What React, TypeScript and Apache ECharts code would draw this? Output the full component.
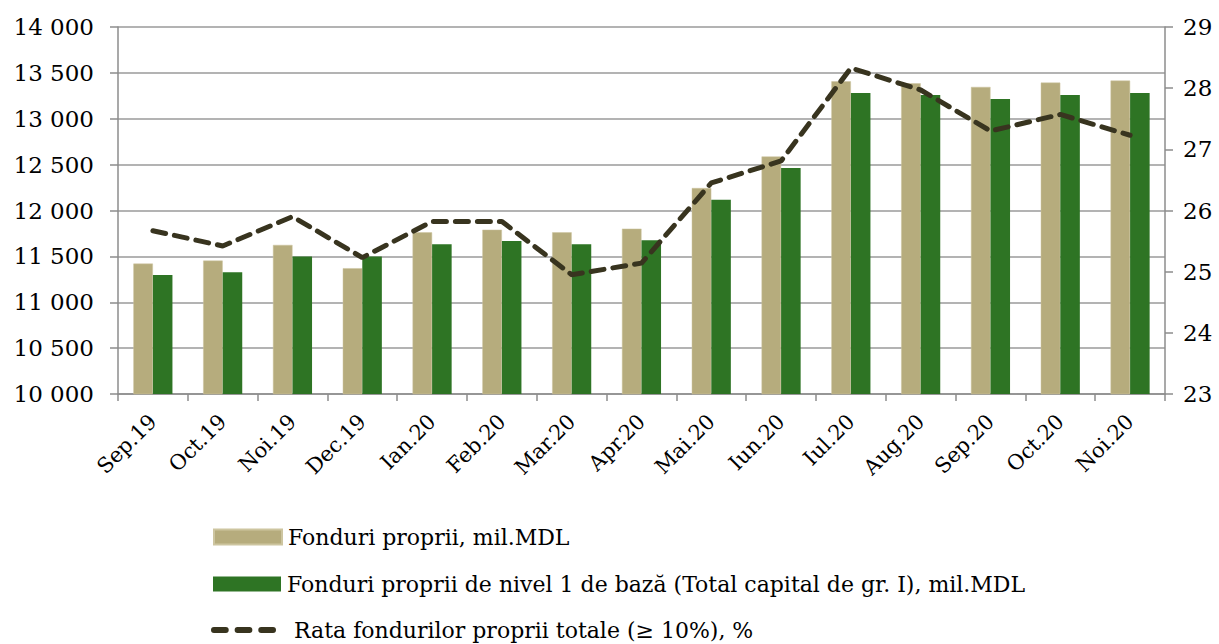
import React, { useEffect, useRef } from "react";
import * as echarts from "echarts";

const categories = ["Sep.19", "Oct.19", "Noi.19", "Dec.19", "Ian.20", "Feb.20", "Mar.20", "Apr.20", "Mai.20", "Iun.20", "Iul.20", "Aug.20", "Sep.20", "Oct.20", "Noi.20"];
const fonduriProprii = [11421, 11454, 11625, 11371, 11762, 11791, 11762, 11802, 12245, 12589, 13408, 13387, 13347, 13394, 13416];
const fonduriNivel1 = [11298, 11327, 11498, 11498, 11632, 11668, 11632, 11675, 12118, 12462, 13282, 13260, 13216, 13260, 13282];
const rata = [25.67, 25.42, 25.9, 25.23, 25.82, 25.82, 24.95, 25.14, 26.45, 26.81, 28.33, 27.97, 27.3, 27.57, 27.23];

const nameA = "Fonduri proprii, mil.MDL";
const nameB = "Fonduri proprii de nivel 1 de bază (Total capital de gr. I), mil.MDL";
const nameC = "Rata fondurilor proprii totale (≥ 10%), %";

const FONT = "DejaVu Serif";
const DASH_ICON =
  "path://M3,0h12a3,3 0 0 1 0,6h-12a3,3 0 0 1 0,-6z M27,0h12a3,3 0 0 1 0,6h-12a3,3 0 0 1 0,-6z M51,0h12a3,3 0 0 1 0,6h-12a3,3 0 0 1 0,-6z";

export default function App() {
  const ref = useRef<HTMLDivElement>(null);
  useEffect(() => {
    const chart = echarts.init(ref.current!, null, { renderer: "svg" });
    const legendText = { fontFamily: FONT, fontSize: 22, lineHeight: 22, color: "#000" };
    chart.setOption({
      animation: false,
      backgroundColor: "#fff",
      grid: { left: 118, right: 54, top: 27, bottom: 250, containLabel: false },
      legend: [
        {
          data: [{ name: nameA, icon: "rect" }],
          left: 213, top: 526, itemWidth: 68, itemHeight: 15, padding: 0,
          textStyle: { ...legendText, padding: [0, 0, 0, 1] }, selectedMode: false,
        },
        {
          data: [{ name: nameB, icon: "rect" }],
          left: 213, top: 573, itemWidth: 68, itemHeight: 15, padding: 0,
          textStyle: { ...legendText, padding: [0, 0, 0, 1] }, selectedMode: false,
        },
        {
          data: [{ name: nameC, icon: DASH_ICON }],
          left: 211, top: 619, itemWidth: 65, itemHeight: 6, padding: 0,
          textStyle: { ...legendText, padding: [0, 0, 0, 13] }, selectedMode: false,
        },
      ],
      xAxis: {
        type: "category",
        data: categories,
        boundaryGap: true,
        axisLine: { lineStyle: { color: "#8c8c8c", width: 1.5 } },
        axisTick: { show: true, length: 7, lineStyle: { color: "#8c8c8c", width: 1.5 } },
        axisLabel: { rotate: 45, fontFamily: FONT, fontSize: 21, color: "#000", margin: 24 },
      },
      yAxis: [
        {
          type: "value",
          min: 10000,
          max: 14000,
          interval: 500,
          axisLine: { show: true, lineStyle: { color: "#8c8c8c", width: 1.5 } },
          axisTick: { show: true, length: 8, lineStyle: { color: "#8c8c8c", width: 1.5 } },
          splitLine: { lineStyle: { color: "#9a9a9a", width: 1.5 } },
          axisLabel: {
            fontFamily: FONT,
            fontSize: 23,
            color: "#000",
            margin: 24,
            formatter: (v: number) => {
              const s = String(v);
              return s.length > 3 ? s.slice(0, s.length - 3) + " " + s.slice(-3) : s;
            },
          },
        },
        {
          type: "value",
          min: 23,
          max: 29,
          interval: 1,
          position: "right",
          axisLine: { show: true, lineStyle: { color: "#8c8c8c", width: 1.5 } },
          axisTick: { show: true, length: 8, lineStyle: { color: "#8c8c8c", width: 1.5 } },
          splitLine: { show: false },
          axisLabel: { fontFamily: FONT, fontSize: 23, color: "#000", margin: 18 },
        },
      ],
      series: [
        {
          name: nameA,
          type: "bar",
          data: fonduriProprii,
          barGap: "0%",
          barCategoryGap: "44%",
          itemStyle: { color: "#b6ac7d", borderColor: "#cdc5a0", borderWidth: 0.5 },
        },
        {
          name: nameB,
          type: "bar",
          data: fonduriNivel1,
          itemStyle: { color: "#2e7424" },
        },
        {
          name: nameC,
          type: "line",
          yAxisIndex: 1,
          data: rata,
          symbol: "none",
          lineStyle: { color: "#38341f", width: 5, type: [13, 9], cap: "round" },
          itemStyle: { color: "#38341f" },
        },
      ],
    });
    return () => chart.dispose();
  }, []);
  return (
    <div
      ref={ref}
      style={{ position: "fixed", left: 0, top: 0, width: 1219, height: 644, overflow: "hidden" }}
    />
  );
}
